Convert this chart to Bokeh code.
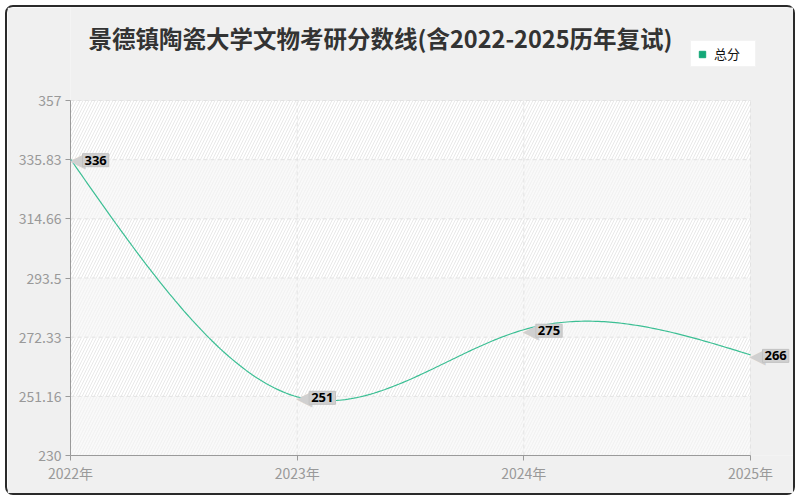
import numpy as np
from bokeh.plotting import figure
from bokeh.models import (Range1d, FixedTicker, ColumnDataSource, Label,
                          BoxAnnotation, Legend, LegendItem)
from bokeh.embed import file_html
from bokeh.resources import INLINE

# ---- data ----
years = [2022, 2023, 2024, 2025]
scores = [336, 251, 275, 266]
x_tick_labels = ["2022年", "2023年", "2024年", "2025年"]
y_tick_labels = ["230", "251.16", "272.33", "293.5", "314.66", "335.83", "357"]
series_name = "总分"
title_text = "景德镇陶瓷大学文物考研分数线(含2022-2025历年复试)"

LINE_COLOR = "#3cbf94"
MARK_COLOR = "#14a878"
CJK = "Noto Sans CJK SC"

# ---- layout geometry (pixels, page coordinates) ----
FIG_X0, FIG_Y0 = 7, 7          # figure placed with a 7px margin
FIG_W, FIG_H = 786, 486
PLOT_L, PLOT_R = 70, 750       # where the axis x-range sits
PLOT_T, PLOT_B = 100, 455      # where the axis y-range sits


def natural_spline(xs, ys, n=80):
    xs = np.asarray(xs, float)
    ys = np.asarray(ys, float)
    k = len(xs)
    h = np.diff(xs)
    A = np.zeros((k, k))
    b = np.zeros(k)
    A[0, 0] = A[-1, -1] = 1.0
    for i in range(1, k - 1):
        A[i, i - 1] = h[i - 1]
        A[i, i] = 2 * (h[i - 1] + h[i])
        A[i, i + 1] = h[i]
        b[i] = 6 * ((ys[i + 1] - ys[i]) / h[i] - (ys[i] - ys[i - 1]) / h[i - 1])
    M = np.linalg.solve(A, b)
    out_x, out_y = [], []
    for i in range(k - 1):
        u = np.linspace(0, h[i], n, endpoint=(i == k - 2))
        hi = h[i]
        s = (M[i] * (hi - u) ** 3 / (6 * hi) + M[i + 1] * u ** 3 / (6 * hi)
             + (ys[i] / hi - M[i] * hi / 6) * (hi - u)
             + (ys[i + 1] / hi - M[i + 1] * hi / 6) * u)
        out_x.extend(xs[i] + u)
        out_y.extend(s)
    return out_x, out_y


y_ticks = [float(s) for s in y_tick_labels]
x0, x1 = years[0], years[-1]
y0, y1 = y_ticks[0], y_ticks[-1]
xppu = (PLOT_R - PLOT_L) / (x1 - x0)
yppu = (PLOT_B - PLOT_T) / (y1 - y0)


def px_x(px):
    return x0 + (px - PLOT_L) / xppu


def px_y(py):
    return y1 + (PLOT_T - py) / yppu


x_end = px_x(FIG_X0 + FIG_W)
y_top = px_y(FIG_Y0)

p = figure(width=FIG_W, height=FIG_H, output_backend="svg", toolbar_location=None,
           x_range=Range1d(x0, x_end), y_range=Range1d(y0, y_top),
           min_border_left=PLOT_L - FIG_X0, min_border_right=0,
           min_border_top=0, min_border_bottom=FIG_Y0 + FIG_H - PLOT_B)

p.styles = {"outline": "2px solid #2a2a2a", "border-radius": "6px",
            "margin-left": f"{FIG_X0}px", "margin-top": f"{FIG_Y0}px"}
p.border_fill_color = "#f0f0f0"
p.background_fill_color = "#f0f0f0"
p.outline_line_color = None
p.xgrid.visible = False
p.ygrid.visible = False

# plot area background + alternating bands
for i in range(len(y_ticks) - 1):
    if i % 2 == 1:
        band = BoxAnnotation(left=x0, right=x1, bottom=y_ticks[i], top=y_ticks[i + 1],
                             level="image", fill_color="#ffffff", fill_alpha=1.0,
                             line_color=None, hatch_pattern="/", hatch_color="#e2e2e2",
                             hatch_scale=6, hatch_weight=0.8)
    else:
        band = BoxAnnotation(left=x0, right=x1, bottom=y_ticks[i], top=y_ticks[i + 1],
                             level="image", fill_color="#f9f9f9", fill_alpha=1.0,
                             line_color=None, hatch_pattern="/", hatch_color="#efefef",
                             hatch_scale=6, hatch_weight=0.8)
    p.add_layout(band)
p.add_layout(BoxAnnotation(left=x0, right=x1, bottom=y0, top=y1, level="underlay",
                           fill_alpha=0, line_color="#e6e6e6", line_width=1))

# grid lines (dashed) limited to the plot area
p.segment(x0=years, y0=[y0] * len(years), x1=years, y1=[y1] * len(years),
          line_color="#e3e3e3", line_dash="4 3", line_width=1)
p.segment(x0=[x0] * len(y_ticks), y0=y_ticks, x1=[x1] * len(y_ticks), y1=y_ticks,
          line_color="#e3e3e3", line_dash="4 3", line_width=1)

# axes
p.xaxis.ticker = FixedTicker(ticks=years)
p.xaxis.major_label_overrides = {y: l for y, l in zip(years, x_tick_labels)}
p.xaxis.bounds = (x0, x1)
p.yaxis.ticker = FixedTicker(ticks=y_ticks)
p.yaxis.major_label_overrides = {t: l for t, l in zip(y_ticks, y_tick_labels)}
p.yaxis.bounds = (y0, y1)
for ax in (p.xaxis, p.yaxis):
    ax.axis_line_color = "#9a9a9a"
    ax.major_tick_line_color = "#9a9a9a"
    ax.major_tick_out = 5
    ax.major_tick_in = 0
    ax.minor_tick_line_color = None
    ax.major_label_text_color = "#999999"
    ax.major_label_text_font = CJK
    ax.major_label_text_font_size = "14px"
p.xaxis.major_label_standoff = 2
p.yaxis.major_label_standoff = 4

# curve
sx, sy = natural_spline(years, scores)
src = ColumnDataSource(data=dict(x=sx, y=sy))
p.line("x", "y", source=src, line_color=LINE_COLOR, line_width=1.2)

# title
p.add_layout(Label(x=px_x(380), y=px_y(37), text=title_text, text_font=CJK,
                   text_font_size="23.5px", text_font_style="bold",
                   text_color="#333333", text_align="center",
                   text_baseline="middle"))

# legend swatch: a scatter renderer whose single point is NaN (never drawn)
legend_src = ColumnDataSource(data=dict(x=[np.nan], y=[np.nan]))
marker = p.scatter("x", "y", source=legend_src, marker="square", size=7,
                   fill_color=MARK_COLOR, line_color=MARK_COLOR)
legend = Legend(items=[LegendItem(label=series_name, renderers=[marker])],
                location=(690 - PLOT_L, PLOT_B - 67), orientation="horizontal",
                background_fill_color="#ffffff", background_fill_alpha=1.0,
                border_line_color="#e8e8e8", label_text_font=CJK,
                label_text_font_size="13px", label_text_color="#111111",
                glyph_width=16, glyph_height=16, label_height=10, label_width=38,
                label_standoff=4, padding=3, margin=0)
p.add_layout(legend, "center")

# value labels with a callout arrow
for xv, yv in zip(years, scores):
    arrow = Label(x=xv, y=yv, text="◀", text_font="DejaVu Sans",
                  text_font_size="21px", text_color="#d0d0d0",
                  text_align="left", text_baseline="middle", x_offset=-1, y_offset=-1)
    p.add_layout(arrow)
    lab = Label(x=xv, y=yv, text=str(yv), text_font="Noto Sans",
                text_font_size="13px", text_font_style="bold", text_color="#000000",
                text_align="left", text_baseline="middle", x_offset=12, y_offset=-1,
                background_fill_color="#d0d0d0", background_fill_alpha=1.0,
                border_line_color="#c2c2c2", padding=2)
    p.add_layout(lab)

open("out.html", "w").write(file_html(p, INLINE))
